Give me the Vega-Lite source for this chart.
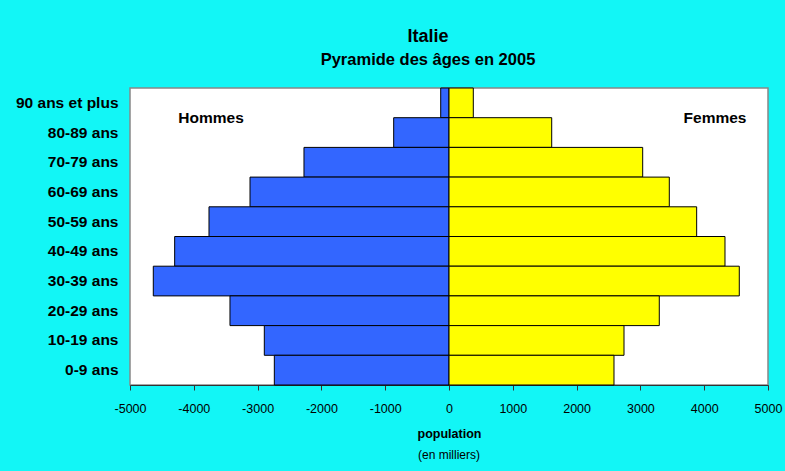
{
  "$schema": "https://vega.github.io/schema/vega-lite/v6.json",
  "width": 638,
  "height": 297,
  "autosize": {"type": "none"},
  "padding": {"left": 130, "top": 88, "right": 17, "bottom": 86},
  "background": "#12F6F6",
  "config": {
    "font": "Liberation Sans",
    "view": {"fill": "white", "stroke": "#888888", "strokeWidth": 1.5}
  },
  "title": {
    "text": "Italie",
    "subtitle": "Pyramide des âges en 2005",
    "fontSize": 18,
    "fontWeight": "bold",
    "color": "black",
    "subtitleFontSize": 16.5,
    "subtitleFontWeight": "bold",
    "subtitleColor": "black",
    "subtitlePadding": 6,
    "offset": 19,
    "anchor": "middle",
    "dx": -21
  },
  "datasets": {
    "pop": [
      {"age": "90 ans et plus", "sexe": "Hommes", "valeur": -130},
      {"age": "80-89 ans", "sexe": "Hommes", "valeur": -867},
      {"age": "70-79 ans", "sexe": "Hommes", "valeur": -2273},
      {"age": "60-69 ans", "sexe": "Hommes", "valeur": -3119},
      {"age": "50-59 ans", "sexe": "Hommes", "valeur": -3762},
      {"age": "40-49 ans", "sexe": "Hommes", "valeur": -4300},
      {"age": "30-39 ans", "sexe": "Hommes", "valeur": -4635},
      {"age": "20-29 ans", "sexe": "Hommes", "valeur": -3433},
      {"age": "10-19 ans", "sexe": "Hommes", "valeur": -2895},
      {"age": "0-9 ans", "sexe": "Hommes", "valeur": -2738},
      {"age": "90 ans et plus", "sexe": "Femmes", "valeur": 381},
      {"age": "80-89 ans", "sexe": "Femmes", "valeur": 1610},
      {"age": "70-79 ans", "sexe": "Femmes", "valeur": 3036},
      {"age": "60-69 ans", "sexe": "Femmes", "valeur": 3453},
      {"age": "50-59 ans", "sexe": "Femmes", "valeur": 3882},
      {"age": "40-49 ans", "sexe": "Femmes", "valeur": 4326},
      {"age": "30-39 ans", "sexe": "Femmes", "valeur": 4550},
      {"age": "20-29 ans", "sexe": "Femmes", "valeur": 3296},
      {"age": "10-19 ans", "sexe": "Femmes", "valeur": 2743},
      {"age": "0-9 ans", "sexe": "Femmes", "valeur": 2586}
    ],
    "labels": [
      {"age": "90 ans et plus", "label": "Hommes", "valeur": -3730},
      {"age": "90 ans et plus", "label": "Femmes", "valeur": 4170}
    ],
    "unit": [
      {"age": "0-9 ans", "label": "(en milliers)", "valeur": 0}
    ]
  },
  "encoding": {
    "y": {
      "field": "age",
      "type": "nominal",
      "sort": ["90 ans et plus", "80-89 ans", "70-79 ans", "60-69 ans", "50-59 ans", "40-49 ans", "30-39 ans", "20-29 ans", "10-19 ans", "0-9 ans"],
      "scale": {"paddingInner": 0, "paddingOuter": 0},
      "axis": {
        "title": null,
        "ticks": false,
        "domain": false,
        "labelFontSize": 15.5,
        "labelFontWeight": "bold",
        "labelColor": "black",
        "labelPadding": 12
      }
    },
    "x": {
      "field": "valeur",
      "type": "quantitative",
      "scale": {"domain": [-5000, 5000], "nice": false},
      "axis": {
        "values": [-5000, -4000, -3000, -2000, -1000, 0, 1000, 2000, 3000, 4000, 5000],
        "labelExpr": "replace(datum.label, '−', '-')",
        "format": "d",
        "grid": false,
        "title": "population",
        "titleFontSize": 12.5,
        "titleFontWeight": "bold",
        "titleColor": "black",
        "titlePadding": 13,
        "labelFontSize": 12.5,
        "labelColor": "black",
        "labelPadding": 12,
        "tickSize": 5,
        "tickColor": "#333333",
        "domainColor": "#333333",
        "labelFlush": false
      }
    }
  },
  "layer": [
    {
      "data": {"name": "pop"},
      "mark": {"type": "bar", "stroke": "black", "strokeWidth": 1},
      "encoding": {
        "color": {
          "field": "sexe",
          "type": "nominal",
          "scale": {"domain": ["Hommes", "Femmes"], "range": ["#3366FF", "#FFFF00"]},
          "legend": null
        }
      }
    },
    {
      "data": {"name": "labels"},
      "mark": {"type": "text", "fontSize": 15.5, "fontWeight": "bold", "color": "black", "align": "center", "baseline": "middle"},
      "encoding": {
        "y": {"field": "age", "type": "nominal", "bandPosition": 1, "sort": ["90 ans et plus", "80-89 ans", "70-79 ans", "60-69 ans", "50-59 ans", "40-49 ans", "30-39 ans", "20-29 ans", "10-19 ans", "0-9 ans"]},
        "text": {"field": "label"}
      }
    },
    {
      "data": {"name": "unit"},
      "mark": {"type": "text", "fontSize": 12, "color": "black", "align": "center", "baseline": "middle", "dy": 70},
      "encoding": {
        "y": {"field": "age", "type": "nominal", "bandPosition": 1, "sort": ["90 ans et plus", "80-89 ans", "70-79 ans", "60-69 ans", "50-59 ans", "40-49 ans", "30-39 ans", "20-29 ans", "10-19 ans", "0-9 ans"]},
        "text": {"field": "label"}
      }
    }
  ]
}
